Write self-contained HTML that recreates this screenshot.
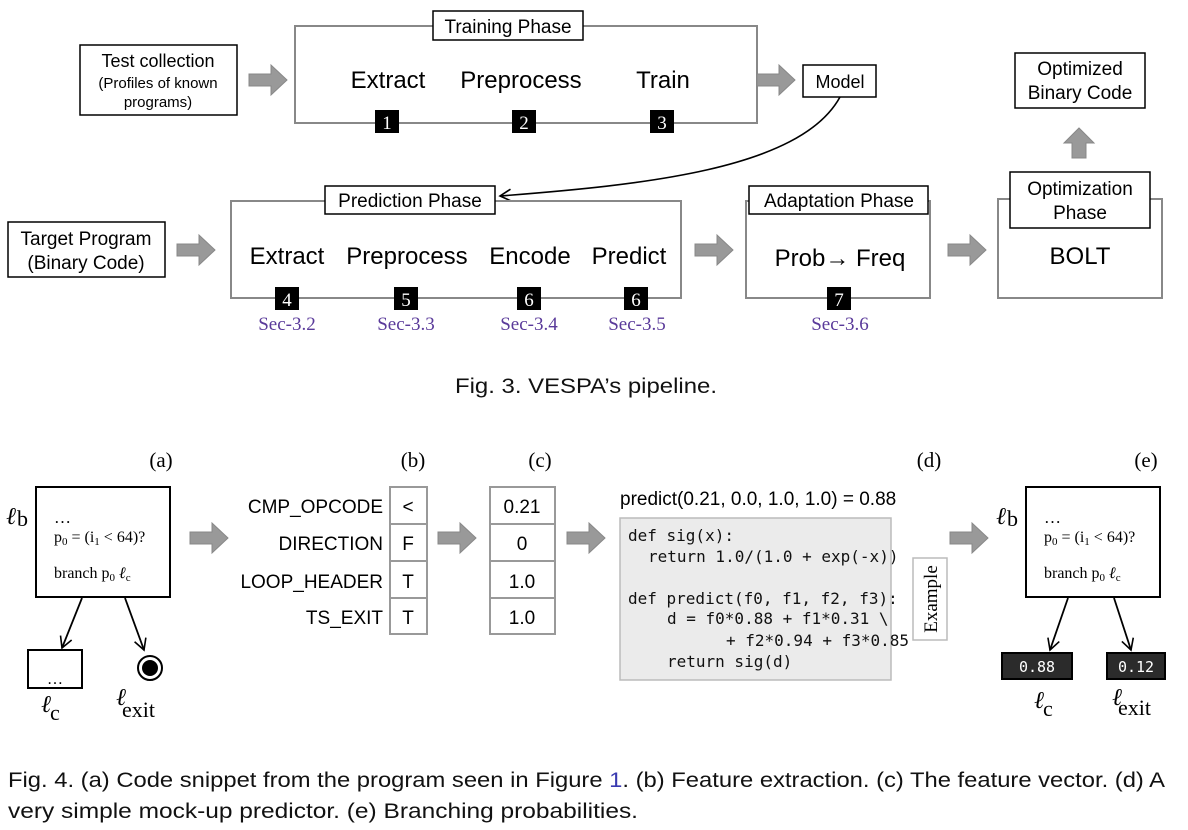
<!DOCTYPE html>
<html><head><meta charset="utf-8"><style>
body{margin:0;background:#fff;}
svg{display:block}
.s{font-family:"Liberation Sans",Arial,sans-serif;}
.r{font-family:"Liberation Serif",serif;}
.m{font-family:"DejaVu Sans Mono","Liberation Mono",monospace;}
</style></head><body>
<svg width="1188" height="830" viewBox="0 0 1188 830" xmlns="http://www.w3.org/2000/svg">
<defs>
<g id="ba"><path d="M0,-6 H22 V-15 L38,0 L22,15 V6 H0 Z" fill="#999" stroke="#888" stroke-width="1"/></g>
<marker id="ah" markerWidth="14" markerHeight="14" refX="12" refY="7" orient="auto" markerUnits="userSpaceOnUse"><path d="M1,1 L12,7 L1,13" fill="none" stroke="#000" stroke-width="1.6"/></marker>
</defs>
<g class="s" text-anchor="middle">
<rect x="80" y="45" width="157" height="70" fill="#fff" stroke="#000" stroke-width="1.5"/>
<text x="158" y="67" font-size="18">Test collection</text>
<text x="158" y="88" font-size="15">(Profiles of known</text>
<text x="158" y="107" font-size="15">programs)</text>
<use href="#ba" x="249" y="80"/>
<rect x="295" y="26" width="462" height="97" fill="none" stroke="#888" stroke-width="2"/>
<rect x="433" y="11" width="150" height="29" fill="#fff" stroke="#000" stroke-width="1.5"/>
<text x="508" y="33" font-size="19">Training Phase</text>
<text x="388" y="88" font-size="24">Extract</text>
<text x="521" y="88" font-size="24">Preprocess</text>
<text x="663" y="88" font-size="24">Train</text>
<use href="#ba" x="757" y="80"/>
<rect x="803" y="65" width="73" height="32" fill="#fff" stroke="#000" stroke-width="1.5"/>
<text x="840" y="88" font-size="18">Model</text>
<rect x="1015" y="53" width="130" height="55" fill="#fff" stroke="#000" stroke-width="1.5"/>
<text x="1080" y="75" font-size="19">Optimized</text>
<text x="1080" y="99" font-size="19">Binary Code</text>
<path d="M1072,158 V143 H1064 L1079,128 L1094,143 H1086 V158 Z" fill="#999" stroke="#888"/>
<path d="M840,97 C800,170 640,185 500,196" fill="none" stroke="#000" stroke-width="1.6" marker-end="url(#ah)"/>
<rect x="8" y="222" width="157" height="55" fill="#fff" stroke="#000" stroke-width="1.5"/>
<text x="86" y="245" font-size="19">Target Program</text>
<text x="86" y="269" font-size="19">(Binary Code)</text>
<use href="#ba" x="177" y="250"/>
<rect x="231" y="201" width="450" height="97" fill="none" stroke="#888" stroke-width="2"/>
<rect x="325" y="186" width="170" height="28" fill="#fff" stroke="#000" stroke-width="1.5"/>
<text x="410" y="207" font-size="19">Prediction Phase</text>
<text x="287" y="264" font-size="24">Extract</text>
<text x="407" y="264" font-size="24">Preprocess</text>
<text x="530" y="264" font-size="24">Encode</text>
<text x="629" y="264" font-size="24">Predict</text>
<use href="#ba" x="695" y="250"/>
<rect x="746" y="201" width="184" height="97" fill="none" stroke="#888" stroke-width="2"/>
<rect x="749" y="186" width="179" height="28" fill="#fff" stroke="#000" stroke-width="1.5"/>
<text x="839" y="207" font-size="19">Adaptation Phase</text>
<text x="840" y="266" font-size="24">Prob→ Freq</text>
<use href="#ba" x="948" y="250"/>
<rect x="998" y="199" width="164" height="99" fill="none" stroke="#888" stroke-width="2"/>
<rect x="1010" y="172" width="140" height="56" fill="#fff" stroke="#000" stroke-width="1.5"/>
<text x="1080" y="195" font-size="19">Optimization</text>
<text x="1080" y="219" font-size="19">Phase</text>
<text x="1080" y="264" font-size="24">BOLT</text>
</g>
<g class="r" font-size="19" text-anchor="middle" fill="#fff">
<rect x="375" y="110" width="24" height="23" fill="#000"/><text x="387" y="129">1</text>
<rect x="512" y="110" width="24" height="23" fill="#000"/><text x="524" y="129">2</text>
<rect x="650" y="110" width="24" height="23" fill="#000"/><text x="662" y="129">3</text>
<rect x="275" y="287" width="24" height="23" fill="#000"/><text x="287" y="306">4</text>
<rect x="394" y="287" width="24" height="23" fill="#000"/><text x="406" y="306">5</text>
<rect x="517" y="287" width="24" height="23" fill="#000"/><text x="529" y="306">6</text>
<rect x="624" y="287" width="24" height="23" fill="#000"/><text x="636" y="306">6</text>
<rect x="827" y="287" width="24" height="23" fill="#000"/><text x="839" y="306">7</text>
</g>
<g class="r" font-size="19" text-anchor="middle" fill="#5a3a9a">
<text x="287" y="330">Sec-3.2</text><text x="406" y="330">Sec-3.3</text>
<text x="529" y="330">Sec-3.4</text><text x="637" y="330">Sec-3.5</text>
<text x="840" y="330">Sec-3.6</text>
</g>
<text x="455" y="393" class="s" font-size="21" fill="#111" textLength="262" lengthAdjust="spacingAndGlyphs">Fig. 3.  VESPA’s pipeline.</text>

<g class="r" font-size="21" text-anchor="middle">
<text x="161" y="467">(a)</text><text x="413" y="467">(b)</text><text x="540" y="467">(c)</text>
<text x="929" y="467">(d)</text><text x="1146" y="467">(e)</text>
</g>
<g class="r">
<text x="6" y="524" font-size="24" font-style="italic">ℓ</text><text x="17" y="526" font-size="22">b</text>
<rect x="36" y="487" width="134" height="110" fill="none" stroke="#000" stroke-width="2"/>
<text x="54" y="523" font-size="17">…</text>
<text x="54" y="542" font-size="16">p<tspan font-size="11" dy="3">0</tspan><tspan dy="-3"> = (i</tspan><tspan font-size="11" dy="3">1</tspan><tspan dy="-3"> &lt; 64)?</tspan></text>
<text x="54" y="578" font-size="16">branch p<tspan font-size="11" dy="3">0</tspan><tspan dy="-3"> </tspan><tspan font-style="italic">ℓ</tspan><tspan font-size="11" dy="3">c</tspan></text>
<line x1="82" y1="598" x2="62" y2="648" stroke="#000" stroke-width="1.8" marker-end="url(#ah)"/>
<line x1="125" y1="598" x2="144" y2="650" stroke="#000" stroke-width="1.8" marker-end="url(#ah)"/>
<rect x="28" y="650" width="54" height="38" fill="none" stroke="#000" stroke-width="2"/>
<text x="55" y="684" font-size="16" text-anchor="middle">…</text>
<circle cx="150" cy="668" r="12" fill="#fff" stroke="#000" stroke-width="2"/>
<circle cx="150" cy="668" r="8" fill="#000"/>
<text x="41" y="712" font-size="24" font-style="italic">ℓ</text><text x="50" y="720" font-size="22">c</text>
<text x="116" y="705" font-size="24" font-style="italic">ℓ</text><text x="122" y="717" font-size="22">exit</text>
</g>
<use href="#ba" x="190" y="538"/>
<g class="s" font-size="19">
<g text-anchor="end">
<text x="383" y="513">CMP_OPCODE</text><text x="383" y="550">DIRECTION</text>
<text x="383" y="588">LOOP_HEADER</text><text x="383" y="624">TS_EXIT</text>
</g>
<g fill="#fff" stroke="#999" stroke-width="2">
<rect x="390" y="487" width="37" height="37"/><rect x="390" y="524" width="37" height="37"/>
<rect x="390" y="561" width="37" height="37"/><rect x="390" y="598" width="37" height="36"/>
</g>
<g text-anchor="middle">
<text x="408" y="513">&lt;</text><text x="408" y="550">F</text><text x="408" y="588">T</text><text x="408" y="624">T</text>
</g>
</g>
<use href="#ba" x="438" y="538"/>
<g class="s" font-size="19">
<g fill="#fff" stroke="#999" stroke-width="2">
<rect x="490" y="487" width="65" height="37"/><rect x="490" y="524" width="65" height="37"/>
<rect x="490" y="561" width="65" height="37"/><rect x="490" y="598" width="65" height="36"/>
</g>
<g text-anchor="middle">
<text x="522" y="513">0.21</text><text x="522" y="550">0</text><text x="522" y="588">1.0</text><text x="522" y="624">1.0</text>
</g>
</g>
<use href="#ba" x="567" y="538"/>
<text x="620" y="505" class="s" font-size="19">predict(0.21, 0.0, 1.0, 1.0) = 0.88</text>
<rect x="620" y="518" width="271" height="162" fill="#ebebeb" stroke="#bbb" stroke-width="1.5"/>
<g class="m" font-size="16" fill="#111">
<text x="628" y="541">def sig(x):</text>
<text x="648" y="562">return 1.0/(1.0 + exp(-x))</text>
<text x="628" y="604">def predict(f0, f1, f2, f3):</text>
<text x="667" y="624">d = f0*0.88 + f1*0.31 \</text>
<text x="726" y="646">+ f2*0.94 + f3*0.85</text>
<text x="667" y="667">return sig(d)</text>
</g>
<rect x="913" y="558" width="34" height="82" fill="#fff" stroke="#bbb" stroke-width="1.5"/>
<text x="0" y="0" class="r" font-size="19" text-anchor="middle" transform="translate(937,599) rotate(-90)">Example</text>
<use href="#ba" x="950" y="538"/>
<g class="r">
<text x="996" y="524" font-size="24" font-style="italic">ℓ</text><text x="1007" y="526" font-size="22">b</text>
<rect x="1026" y="487" width="134" height="110" fill="none" stroke="#000" stroke-width="2"/>
<text x="1044" y="523" font-size="17">…</text>
<text x="1044" y="542" font-size="16">p<tspan font-size="11" dy="3">0</tspan><tspan dy="-3"> = (i</tspan><tspan font-size="11" dy="3">1</tspan><tspan dy="-3"> &lt; 64)?</tspan></text>
<text x="1044" y="578" font-size="16">branch p<tspan font-size="11" dy="3">0</tspan><tspan dy="-3"> </tspan><tspan font-style="italic">ℓ</tspan><tspan font-size="11" dy="3">c</tspan></text>
<line x1="1068" y1="598" x2="1050" y2="650" stroke="#000" stroke-width="1.8" marker-end="url(#ah)"/>
<line x1="1114" y1="598" x2="1131" y2="650" stroke="#000" stroke-width="1.8" marker-end="url(#ah)"/>
<rect x="1002" y="653" width="70" height="26" fill="#2b2b2b" stroke="#000" stroke-width="2"/>
<rect x="1107" y="653" width="58" height="26" fill="#2b2b2b" stroke="#000" stroke-width="2"/>
<text x="1037" y="672" class="m" font-size="15" fill="#fff" text-anchor="middle">0.88</text>
<text x="1136" y="672" class="m" font-size="15" fill="#fff" text-anchor="middle">0.12</text>
<text x="1034" y="708" font-size="24" font-style="italic">ℓ</text><text x="1043" y="716" font-size="22">c</text>
<text x="1112" y="705" font-size="24" font-style="italic">ℓ</text><text x="1118" y="715" font-size="22">exit</text>
</g>
<g class="s" font-size="21" fill="#111">
<text x="8" y="787" textLength="1157" lengthAdjust="spacingAndGlyphs">Fig. 4.  (a) Code snippet from the program seen in Figure <tspan fill="#3a3ab0">1</tspan>. (b) Feature extraction. (c) The feature vector. (d) A</text>
<text x="8" y="818" textLength="630" lengthAdjust="spacingAndGlyphs">very simple mock-up predictor. (e) Branching probabilities.</text>
</g>
</svg>
</body></html>
